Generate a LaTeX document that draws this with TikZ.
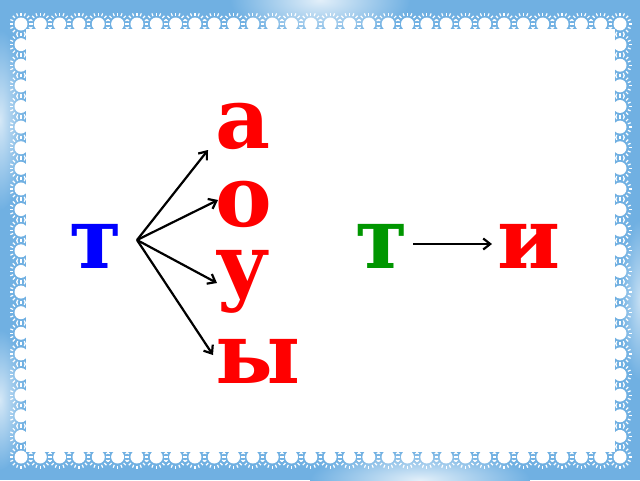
\documentclass[tikz,border=0pt]{standalone}
\usepackage{fontspec}
\setmainfont{DejaVu Serif}
\usetikzlibrary{arrows.meta}
\definecolor{bgblue}{RGB}{112,176,226}
\definecolor{tred}{RGB}{255,0,0}
\definecolor{tblue}{RGB}{0,0,255}
\definecolor{tgreen}{RGB}{0,150,0}
\tikzset{
  letter/.style={font=\fontsize{85}{85}\selectfont\bfseries, inner sep=0pt, anchor=base west, text height=0.56em, text depth=0pt},
  arr/.style={line width=2.2pt, -{Straight Barb[length=7pt,width=11pt]}},
  lace/.pic={
    \fill[white] (0,0) circle (6.5);
    \foreach \a in {0,22.5,...,337.5} \draw[white,line width=1.2pt] (\a:8.5) -- (\a:11.5);
  }
}
\begin{document}
\begin{tikzpicture}[x=1pt,y=-1pt]
\useasboundingbox (0,0) rectangle (640,480);
% background
\fill[bgblue] (0,0) rectangle (640,480);
\shade[inner color=white!80!bgblue, outer color=bgblue] (320,0) ellipse (90 and 40);
\shade[inner color=white!70!bgblue, outer color=bgblue] (0,120) ellipse (25 and 90);
\shade[inner color=white!70!bgblue, outer color=bgblue] (0,400) ellipse (25 and 70);
\shade[inner color=white!80!bgblue, outer color=bgblue] (420,480) ellipse (110 and 30);
\shade[inner color=white!60!bgblue, outer color=bgblue] (640,300) ellipse (20 and 80);
% white panel
\fill[white] (26,29) rectangle (615,452);
% lace circles
\foreach \i in {0,...,31} {
  \pic at ({21+\i*19.323},24) {lace};
  \pic at ({21+\i*19.323},457) {lace};
}
\foreach \j in {1,...,20} {
  \pic at (21,{24+\j*20.619}) {lace};
  \pic at (620,{24+\j*20.619}) {lace};
}
% letters
\node[letter, text=tblue] (tb) at (69,268) {т};
\node[letter, text=tred] (la) at (215,148) {а};
\node[letter, text=tred] (lo) at (215,226) {о};
\node[letter, text=tred, text depth=0.2em] (lu) at (215,294) {у};
\node[letter, text=tred] (ly) at (215,383) {ы};
\node[letter, text=tgreen] (tg) at (355,268) {т};
\node[letter, text=tred] (li) at (497,268) {и};
% arrows
\coordinate (hub) at (137,240);
\coordinate (ea) at (208,150);
\coordinate (eo) at (218,200);
\coordinate (eu) at (217,283);
\coordinate (ey) at (213,355);
\draw[arr] (hub) -- (ea);
\draw[arr] (hub) -- (eo);
\draw[arr] (hub) -- (eu);
\draw[arr] (hub) -- (ey);
\coordinate (gs) at (413,244);
\coordinate (ge) at (492,244);
\draw[arr] (gs) -- (ge);
\end{tikzpicture}
\end{document}
